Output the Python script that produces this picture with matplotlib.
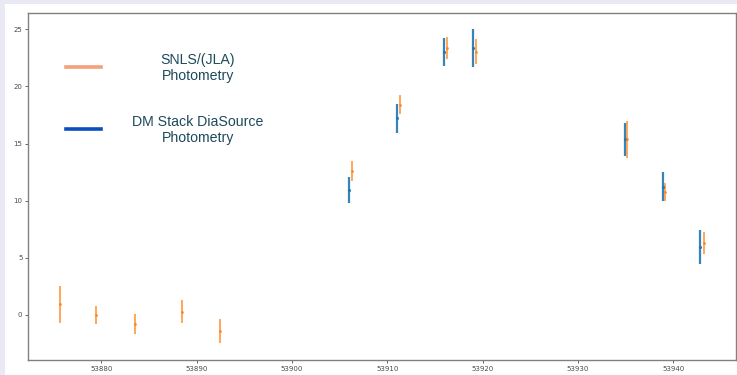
import matplotlib
matplotlib.use("Agg")
import matplotlib.pyplot as plt
from matplotlib.patches import Rectangle
from matplotlib.lines import Line2D

# SNLS/(JLA) photometry
snls_mjd = [53875.7, 53879.4, 53883.5, 53888.5, 53892.4, 53906.3, 53911.3,
            53916.3, 53919.3, 53935.2, 53939.1, 53943.2]
snls_flux = [0.92, 0.01, -0.80, 0.29, -1.42, 12.62, 18.42, 23.37, 23.03,
             15.37, 10.76, 6.32]
snls_err = [1.65, 0.81, 0.90, 1.02, 1.04, 0.88, 0.86, 0.96, 1.10, 1.60,
            0.80, 0.98]

# DM Stack DiaSource photometry
dm_mjd = [53906.0, 53911.0, 53916.0, 53919.0, 53934.9, 53938.9, 53942.8]
dm_flux = [10.95, 17.20, 23.04, 23.36, 15.38, 11.22, 5.95]
dm_err = [1.12, 1.23, 1.23, 1.63, 1.46, 1.27, 1.48]

W, H = 737, 375
fig = plt.figure(figsize=(W / 100, H / 100), dpi=100)
fig.patch.set_facecolor("#e9e9f3")
fig.patches.append(Rectangle((5 / W, 0), 1 - 5 / W, 1 - 4 / H,
                             transform=fig.transFigure, facecolor="white",
                             edgecolor="none", zorder=-5))

ax = fig.add_axes([28 / W, 15 / H, 708 / W, 347 / H])
ax.set_zorder(2)
ax.set_facecolor("white")

ax.errorbar(dm_mjd, dm_flux, yerr=dm_err, fmt=".", color="#1f77b4",
            elinewidth=1.6, markersize=2.5, alpha=0.9)
ax.errorbar(snls_mjd, snls_flux, yerr=snls_err, fmt=".", color="#ff7f0e",
            elinewidth=1.2, markersize=2.0, alpha=0.8)

ax.set_xlim(53872.3, 53946.6)
ax.set_ylim(-3.94, 26.43)
ax.set_xticks([53880, 53890, 53900, 53910, 53920, 53930, 53940])
ax.set_yticks([0, 5, 10, 15, 20, 25])
ax.tick_params(labelsize=5, length=2, width=0.6, colors="#4a4a4a",
               pad=2)
for s in ax.spines.values():
    s.set_color("#808080")
    s.set_linewidth(1.0)

# Key drawn onto the plot area
text_color = "#1d4a5c"
key_lines = [(67, "#f4a07c"), (129, "#0b4fbf")]
for ypix, col in key_lines:
    fig.add_artist(Line2D([66 / W, 101 / W], [1 - ypix / H, 1 - ypix / H],
                          color=col, linewidth=2.6, zorder=5,
                          transform=fig.transFigure))
fig.text(198 / W, 1 - 68 / H, "SNLS/(JLA)\nPhotometry", ha="center",
         va="center", fontsize=10.2, color=text_color, zorder=5,
         family="Liberation Sans", linespacing=1.15)
fig.text(198 / W, 1 - 130 / H, "DM Stack DiaSource\nPhotometry",
         ha="center", va="center", fontsize=10.2, color=text_color, zorder=5,
         family="Liberation Sans", linespacing=1.15)

fig.savefig("out.png", dpi=100, facecolor=fig.get_facecolor())
